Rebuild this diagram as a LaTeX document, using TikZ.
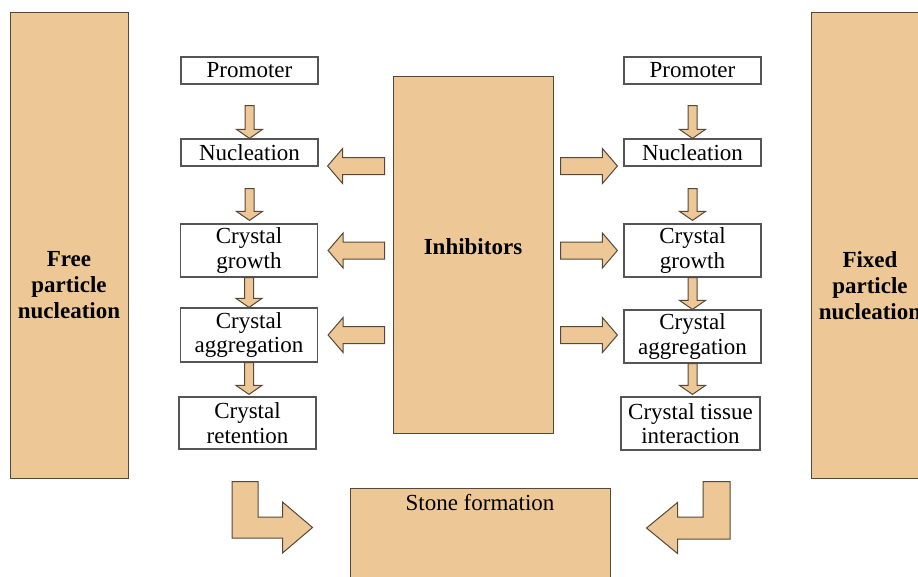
\documentclass[tikz,border=0pt]{standalone}
\usepackage{fontspec}
\setmainfont{Liberation Serif}
\usetikzlibrary{calc}
\definecolor{clay}{RGB}{237,200,150}
\definecolor{clayedge}{RGB}{85,72,58}
\definecolor{boxedge}{RGB}{85,85,85}
\begin{document}
\begin{tikzpicture}[x=1pt,y=-1pt,
  every node/.style={font=\fontsize{23}{24.5}\selectfont},
  stepbox/.style={draw=boxedge, line width=1.2pt, fill=white, minimum width=137pt, inner sep=0pt, align=center},
  onebox/.style={stepbox, minimum height=27pt},
  twobox/.style={stepbox, minimum height=53pt},
  bigbox/.style={draw=clayedge, line width=1pt, fill=clay, inner sep=0pt},
  boldtext/.style={font=\fontsize{23}{26}\selectfont\bfseries, align=center, inner sep=0pt},
  plaintext/.style={align=center, inner sep=0pt},
  arrowfill/.style={draw=clayedge, line width=1pt, fill=clay, line join=miter},
  downarrow/.style={arrowfill, to path={let \p1=(\tikztostart), \p2=(\tikztotarget) in
    (\x1-4.5pt,\y1) -- (\x1+4.5pt,\y1) -- (\x1+4.5pt,\y2+9pt) -- (\x1+13pt,\y2+9pt)
    -- (\x1,\y2) -- (\x1-13pt,\y2+9pt) -- (\x1-4.5pt,\y2+9pt) -- cycle}},
  leftarrow/.style={arrowfill, to path={let \p1=(\tikztostart), \p2=(\tikztotarget) in
    (\x1,\y1-8.5pt) -- (\x1,\y1+8.5pt) -- (\x2+15pt,\y1+8.5pt) -- (\x2+15pt,\y1+17.5pt)
    -- (\x2,\y1) -- (\x2+15pt,\y1-17.5pt) -- (\x2+15pt,\y1-8.5pt) -- cycle}},
  rightarrow/.style={arrowfill, to path={let \p1=(\tikztostart), \p2=(\tikztotarget) in
    (\x1,\y1-8.5pt) -- (\x1,\y1+8.5pt) -- (\x2-15pt,\y1+8.5pt) -- (\x2-15pt,\y1+17.5pt)
    -- (\x2,\y1) -- (\x2-15pt,\y1-17.5pt) -- (\x2-15pt,\y1-8.5pt) -- cycle}},
  bentright/.style={arrowfill, to path={let \p1=(\tikztostart), \p2=(\tikztotarget) in
    (\x1-13pt,\y1) -- (\x1+13pt,\y1) -- (\x1+13pt,\y2+10.5pt) -- (\x2-30pt,\y2+10.5pt)
    -- (\x2-30pt,\y2+25.5pt) -- (\x2,\y2) -- (\x2-30pt,\y2-25.5pt) -- (\x2-30pt,\y2-10.5pt)
    -- (\x1-13pt,\y2-10.5pt) -- cycle}},
  bentleft/.style={arrowfill, to path={let \p1=(\tikztostart), \p2=(\tikztotarget) in
    (\x1+13.5pt,\y1) -- (\x1-13.5pt,\y1) -- (\x1-13.5pt,\y2+11pt) -- (\x2+31pt,\y2+11pt)
    -- (\x2+31pt,\y2+25.5pt) -- (\x2,\y2) -- (\x2+31pt,\y2-25.5pt) -- (\x2+31pt,\y2-11pt)
    -- (\x1+13.5pt,\y2-11pt) -- cycle}}
]
\useasboundingbox (0,0) rectangle (918,576);
\clip (0,0) rectangle (918,576);
\fill[white] (0,0) rectangle (918,576);

% big side boxes
\node[bigbox, minimum width=118pt, minimum height=466pt] (free) at (69,245) {};
\node[boldtext] (freet) at (69,285.5) {Free\\particle\\nucleation};
\node[bigbox, minimum width=118pt, minimum height=466pt] (fixed) at (870,245) {};
\node[boldtext] (fixedt) at (870,285.5) {Fixed\\particle\\nucleation};

% inhibitors
\node[bigbox, minimum width=160pt, minimum height=357pt] (inh) at (473,254.5) {};
\node[boldtext] (inht) at (473,247) {Inhibitors};

% stone formation
\node[bigbox, minimum width=260pt, minimum height=122pt] (stone) at (480,549) {};
\node[plaintext] (stonet) at (480,503) {Stone formation};

% left column
\node[onebox] (lp) at (249.5,70.5) {Promoter};
\node[onebox] (ln) at (249.5,152.5) {Nucleation};
\node[twobox] (lg) at (249,250.5) {Crystal\\growth};
\node[twobox, minimum height=54pt] (la) at (249,335) {Crystal\\aggregation};
\node[twobox, minimum height=52pt] (lr) at (247.5,423) {Crystal\\retention};

% right column
\node[onebox] (rp) at (692.5,70.5) {Promoter};
\node[onebox] (rn) at (692.5,152.5) {Nucleation};
\node[twobox] (rg) at (692.5,250.5) {Crystal\\growth};
\node[twobox] (ra) at (692.5,336.5) {Crystal\\aggregation};
\node[twobox, minimum width=139pt] (rt) at (690.5,423.5) {Crystal tissue\\interaction};

% vertical arrows, left
\draw[downarrow] ($(lp.south)+(0,21)$) to (ln.north);
\draw[downarrow] ($(ln.south)+(0,22)$) to ($(lg.north)+(0,-3)$);
\draw[downarrow] (lg.south) to (la.north);
\draw[downarrow] (la.south) to ($(lr.north)+(0,-2)$);

% vertical arrows, right
\draw[downarrow] ($(rp.south)+(0,21)$) to (rn.north);
\draw[downarrow] ($(rn.south)+(0,22)$) to ($(rg.north)+(0,-3)$);
\draw[downarrow] (rg.south) to (ra.north);
\draw[downarrow] (ra.south) to ($(rt.north)+(0,-2)$);

% inhibitor arrows
\draw[leftarrow] ($(inh.west |- ln.east)+(-8,13.5)$) to ($(ln.east)+(9,13.5)$);
\draw[leftarrow] ($(inh.west |- lg.east)+(-8,0)$) to ($(lg.east)+(10,0)$);
\draw[leftarrow] ($(inh.west |- la.east)+(-8,0)$) to ($(la.east)+(10,0)$);
\draw[rightarrow] ($(inh.east |- rn.west)+(7,13.5)$) to ($(rn.west)+(-6,13.5)$);
\draw[rightarrow] ($(inh.east |- rg.west)+(7,0)$) to ($(rg.west)+(-6,0)$);
\draw[rightarrow] ($(inh.east |- ra.west)+(7,-1.5)$) to ($(ra.west)+(-6,-1.5)$);

% bent arrows to stone formation
\draw[bentright] ($(lr.south)+(-2.5,32)$) to ($(stone.west)+(-37,-21.5)$);
\draw[bentleft] ($(rt.south)+(26,31)$) to ($(stone.east)+(36,-21)$);
\end{tikzpicture}
\end{document}
